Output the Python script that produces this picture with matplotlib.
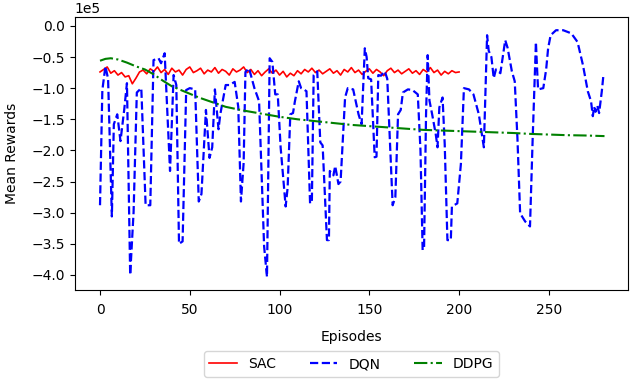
import matplotlib
matplotlib.use("Agg")
from matplotlib import pyplot as plt
from matplotlib.ticker import MultipleLocator

# SAC: mean reward every 2 episodes (0..200), in units of 1e5
sac_episodes = list(range(0, 201, 2))
sac_rewards = [
    -0.74, -0.70, -0.66, -0.76, -0.72, -0.79, -0.75, -0.82, -0.80, -0.93,
    -0.84, -0.74, -0.71, -0.77, -0.69, -0.73, -0.66, -0.75, -0.70, -0.78,
    -0.68, -0.74, -0.71, -0.79, -0.70, -0.66, -0.75, -0.72, -0.68, -0.77,
    -0.71, -0.74, -0.67, -0.76, -0.70, -0.73, -0.79, -0.69, -0.74, -0.71,
    -0.66, -0.75, -0.70, -0.78, -0.72, -0.80, -0.74, -0.69, -0.76, -0.71,
    -0.79, -0.73, -0.82, -0.76, -0.80, -0.72, -0.77, -0.70, -0.74, -0.68,
    -0.75, -0.71, -0.77, -0.73, -0.69, -0.76, -0.72, -0.79, -0.70, -0.74,
    -0.67, -0.75, -0.71, -0.78, -0.73, -0.69, -0.76, -0.70, -0.74, -0.80,
    -0.72, -0.68, -0.75, -0.71, -0.77, -0.73, -0.69, -0.76, -0.72, -0.78,
    -0.70, -0.74, -0.67, -0.75, -0.71, -0.79, -0.73, -0.77, -0.72, -0.75,
    -0.74,
]

# DQN: at its turning points
dqn_episodes = [
    0, 1.3, 3, 4.5, 6.6, 7.7, 9.6, 11.4, 13.5, 15, 16.8, 18.7, 20.5, 23, 25.4,
    28, 29.8, 32.6, 34, 36, 39, 41, 42.5, 44, 46, 48, 50, 53, 55, 56.5, 59, 61,
    62.5, 64, 66, 67, 70, 72, 75, 77, 78.5, 80, 81, 83, 86, 88.6, 91.4, 93,
    94.5, 96, 97.6, 99, 100.6, 103.4, 104.5, 106, 107.5, 108.5, 110.7, 112,
    113.5, 115, 117, 118, 119, 121, 122.7, 124, 126.4, 127.5, 128, 130, 131,
    132.8, 134, 136.5, 138, 141, 144, 145.7, 147.5, 148.5, 149.4, 151, 153,
    154, 155, 156.5, 158.6, 160, 163, 164.5, 166, 167.5, 168.7, 171.5, 174,
    177, 178.5, 179.7, 180.5, 181.6, 182.5, 183.5, 185, 187, 188, 189, 190.8,
    192, 193.5, 195.4, 196, 199, 201, 202.7, 205.5, 208, 211, 213.8, 215.6,
    216.5, 218, 219.3, 220.5, 223, 225.7, 227, 229.4, 231, 232.5, 234, 236.8,
    239.5, 241, 242.8, 243.3, 244, 246.9, 248.5, 249.6, 251, 254, 258, 262.5,
    266, 269, 271.7, 273.5, 274.5, 275.2, 276, 277, 278, 279.5, 280.4,
]
dqn_rewards = [
    -2.88, -1.03, -0.65, -0.85, -3.06, -1.58, -1.42, -1.85, -1.34, -0.92, -4.0,
    -2.99, -1.07, -1.0, -2.88, -2.88, -0.55, -0.52, -0.60, -0.44, -2.33, -0.79,
    -0.95, -3.5, -3.46, -1.03, -1.0, -1.02, -2.82, -2.7, -1.35, -2.12, -1.95,
    -1.02, -1.66, -1.42, -0.95, -0.95, -0.9, -1.3, -2.82, -2.2, -0.74, -0.68,
    -1.0, -1.21, -3.54, -4.03, -0.52, -0.58, -1.1, -1.1, -1.95, -2.9, -2.6,
    -1.42, -1.4, -1.22, -0.89, -1.0, -1.02, -1.05, -2.85, -2.83, -0.79, -0.73,
    -1.87, -1.92, -3.44, -3.44, -2.33, -2.4, -2.25, -2.54, -2.5, -1.15, -1.0,
    -1.02, -1.42, -1.58, -0.36, -0.5, -0.84, -0.86, -2.11, -2.1, -0.79, -0.8,
    -0.73, -0.85, -2.88, -2.75, -1.42, -1.35, -1.07, -1.02, -1.03, -1.1, -2.0,
    -3.6, -3.55, -1.42, -0.47, -1.2, -1.42, -1.74, -1.95, -1.31, -1.15, -1.9,
    -3.44, -3.44, -2.9, -2.85, -2.22, -1.0, -1.02, -1.1, -1.42, -1.95, -0.15,
    -0.4, -0.5, -0.84, -0.7, -0.76, -0.23, -0.35, -0.73, -0.89, -1.8, -3.01,
    -3.14, -3.22, -1.8, -0.26, -0.6, -1.02, -1.0, -0.7, -0.36, -0.15, -0.07,
    -0.07, -0.12, -0.26, -0.63, -1.05, -1.21, -1.45, -1.3, -1.38, -1.28, -1.4,
    -1.05, -0.79,
]

# DDPG: smooth decay
ddpg_episodes = [0, 3, 6, 10, 15, 20, 25, 30, 35, 40, 45, 50, 55, 60, 65, 70,
                 80, 90, 100, 110, 120, 130, 140, 150, 160, 170, 180, 190, 200,
                 210, 220, 230, 240, 250, 260, 270, 281]
ddpg_rewards = [-0.56, -0.53, -0.52, -0.54, -0.59, -0.65, -0.70, -0.78, -0.88,
                -0.97, -1.03, -1.09, -1.15, -1.20, -1.25, -1.30, -1.36, -1.41,
                -1.46, -1.50, -1.53, -1.56, -1.59, -1.61, -1.63, -1.65, -1.67,
                -1.68, -1.69, -1.70, -1.71, -1.72, -1.735, -1.745, -1.755,
                -1.76, -1.77]

fig = plt.figure(figsize=(6.4, 3.81), dpi=100)
ax = fig.add_axes([0.117, 0.239, 0.864, 0.716])

ax.plot(sac_episodes, [v * 1e5 for v in sac_rewards], color="red", linestyle="-",
        linewidth=1.2, label="SAC")
ax.plot(dqn_episodes, [v * 1e5 for v in dqn_rewards], color="blue", linestyle="--",
        linewidth=1.6, label="DQN")
ax.plot(ddpg_episodes, [v * 1e5 for v in ddpg_rewards], color="green", linestyle="-.",
        linewidth=1.5, label="DDPG")

ax.set_xlim(-14, 294)
ax.set_ylim(-4.24e5, 0.14e5)
ax.yaxis.set_major_locator(MultipleLocator(0.5e5))
ax.ticklabel_format(axis="y", style="sci", scilimits=(0, 0))
ax.tick_params(axis="x", pad=6)
ax.set_xlabel("Episodes", labelpad=9)
ax.set_ylabel("Mean Rewards", labelpad=9)
ax.legend(loc="upper center", bbox_to_anchor=(0.5, -0.2), ncol=3,
          columnspacing=2.4)

plt.savefig("out.png", dpi=100)
